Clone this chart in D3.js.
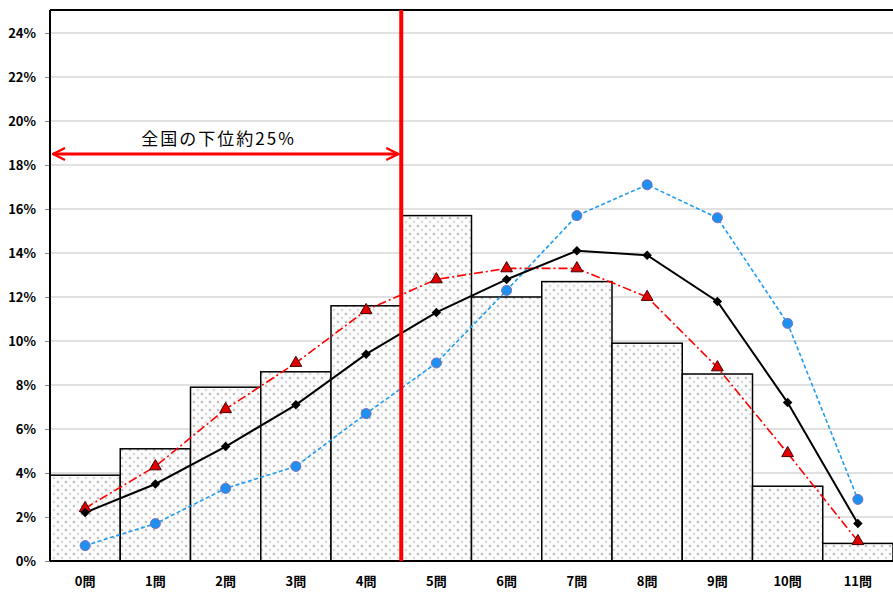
<!DOCTYPE html>
<html>
<head>
<meta charset="utf-8">
<script src="https://cdn.jsdelivr.net/npm/d3@7"></script>
<style>
  body { margin: 0; background: #fff; }
  text { font-family: "Noto Sans CJK JP", "Noto Sans", sans-serif; }
</style>
</head>
<body>
<div id="chart"></div>
<script>
const categories = ["0問","1問","2問","3問","4問","5問","6問","7問","8問","9問","10問","11問"];
const barValues = [3.9, 5.1, 7.9, 8.6, 11.6, 15.7, 12.0, 12.7, 9.9, 8.5, 3.4, 0.8];
const blackValues = [2.2, 3.5, 5.2, 7.1, 9.4, 11.3, 12.8, 14.1, 13.9, 11.8, 7.2, 1.7];
const redValues = [2.4, 4.3, 6.9, 9.0, 11.4, 12.8, 13.3, 13.3, 12.0, 8.8, 4.9, 0.9];
const blueValues = [0.7, 1.7, 3.3, 4.3, 6.7, 9.0, 12.3, 15.7, 17.1, 15.6, 10.8, 2.8];
const yTicks = [0, 2, 4, 6, 8, 10, 12, 14, 16, 18, 20, 22, 24];
const annotationText = "全国の下位約25%";
const cutoffIndex = 5;   // red line sits before this category
const arrowValue = 18.5;

(function chart() {
  let width = 893, height = 595,
    margin = ({ top: 10, right: 0, bottom: 34, left: 50 });

  const svg = d3.select("#chart")
    .append("svg")
    .attr("width", width)
    .attr("height", height);

  let x = d3.scaleBand()
    .domain(categories)
    .range([margin.left, width - margin.right])
    .padding(0);

  let y = d3.scaleLinear()
    .domain([0, 24])
    .range([height - margin.bottom, 33]);

  // stipple pattern for the bars
  const defs = svg.append("defs");
  const pat = defs.append("pattern")
    .attr("id", "dots")
    .attr("width", 8)
    .attr("height", 8)
    .attr("patternUnits", "userSpaceOnUse");
  pat.append("rect").attr("width", 8).attr("height", 8).attr("fill", "#fcfcfc");
  pat.append("circle").attr("cx", 2).attr("cy", 2).attr("r", 1.3).attr("fill", "#c0c0c0");
  pat.append("circle").attr("cx", 6).attr("cy", 6).attr("r", 1.3).attr("fill", "#dadada");

  const arrow = defs.append("marker")
    .attr("id", "arrowhead")
    .attr("viewBox", "0 0 10 10")
    .attr("refX", 9).attr("refY", 5)
    .attr("markerWidth", 5).attr("markerHeight", 5)
    .attr("markerUnits", "strokeWidth")
    .attr("orient", "auto-start-reverse");
  arrow.append("path")
    .attr("d", "M1,1 L9,5 L1,9")
    .attr("fill", "none")
    .attr("stroke", "#ff0000")
    .attr("stroke-width", 1.6);

  // gridlines
  svg.append("g")
    .selectAll("line")
    .data(yTicks.filter(d => d > 0))
    .join("line")
    .attr("x1", margin.left)
    .attr("x2", width)
    .attr("y1", d => y(d))
    .attr("y2", d => y(d))
    .attr("stroke", "#c4c4c4")
    .attr("stroke-width", 1.2);

  // bars
  svg.append("g")
    .selectAll("rect")
    .data(barValues)
    .join("rect")
    .attr("x", (d, i) => x(categories[i]))
    .attr("y", d => y(d))
    .attr("width", x.bandwidth())
    .attr("height", d => y(0) - y(d))
    .attr("fill", "url(#dots)")
    .attr("stroke", "#000")
    .attr("stroke-width", 1.5);

  // frame
  svg.append("line")
    .attr("x1", margin.left).attr("x2", width)
    .attr("y1", margin.top).attr("y2", margin.top)
    .attr("stroke", "#000").attr("stroke-width", 2);

  // y axis
  const yAxis = svg.append("g")
    .attr("transform", `translate(${margin.left},0)`)
    .call(d3.axisLeft(y).tickValues(yTicks).tickSize(5).tickFormat(d => d + "%"));
  yAxis.select(".domain").remove();
  yAxis.selectAll(".tick line").attr("stroke", "#888");
  yAxis.selectAll("text")
    .attr("x", -14)
    .attr("font-size", 13)
    .attr("font-weight", "bold")
    .attr("fill", "#000");
  svg.append("line")
    .attr("x1", margin.left).attr("x2", margin.left)
    .attr("y1", margin.top).attr("y2", y(0))
    .attr("stroke", "#000").attr("stroke-width", 2);

  // x axis
  const xAxis = svg.append("g")
    .attr("transform", `translate(0,${y(0)})`)
    .call(d3.axisBottom(x).tickSize(0));
  xAxis.select(".domain")
    .attr("d", `M${margin.left},0H${width}`)
    .attr("stroke", "#000").attr("stroke-width", 2);
  xAxis.selectAll("text")
    .attr("y", 16)
    .attr("dy", "0.71em")
    .attr("font-size", 13)
    .attr("font-weight", "bold")
    .attr("fill", "#000");

  function buildLine(values, color, dash, width) {
    let line = d3.line()
      .x((d, i) => x(categories[i]) + x.bandwidth() / 2)
      .y(d => y(d));
    svg.append("path")
      .datum(values)
      .attr("fill", "none")
      .attr("stroke", color)
      .attr("stroke-width", width)
      .attr("stroke-dasharray", dash)
      .attr("d", line);
  }

  buildLine(redValues, "#ff0000", "9,3,2,3", 1.6);
  buildLine(blueValues, "#1e9cf0", "4,2.5", 1.6);
  buildLine(blackValues, "#000", null, 2);

  const cx = i => x(categories[i]) + x.bandwidth() / 2;

  svg.append("g")
    .selectAll("path")
    .data(redValues)
    .join("path")
    .attr("d", d3.symbol(d3.symbolTriangle, 60))
    .attr("transform", (d, i) => `translate(${cx(i)},${y(d)})`)
    .attr("fill", "#e00000")
    .attr("stroke", "#400")
    .attr("stroke-width", 1);

  svg.append("g")
    .selectAll("circle")
    .data(blueValues)
    .join("circle")
    .attr("cx", (d, i) => cx(i))
    .attr("cy", d => y(d))
    .attr("r", 5)
    .attr("fill", "#1e90f0")
    .attr("stroke", "#7a6fb8")
    .attr("stroke-width", 1);

  svg.append("g")
    .selectAll("path")
    .data(blackValues)
    .join("path")
    .attr("d", d3.symbol(d3.symbolSquare, 45))
    .attr("transform", (d, i) => `translate(${cx(i)},${y(d)}) rotate(45)`)
    .attr("fill", "#000");

  // cutoff line and arrow
  const cut = x(categories[cutoffIndex]);
  svg.append("line")
    .attr("x1", cut).attr("x2", cut)
    .attr("y1", margin.top).attr("y2", y(0))
    .attr("stroke", "#ff0000").attr("stroke-width", 4);

  svg.append("line")
    .attr("x1", margin.left + 3).attr("x2", cut - 3)
    .attr("y1", y(arrowValue)).attr("y2", y(arrowValue))
    .attr("stroke", "#ff0000").attr("stroke-width", 3)
    .attr("marker-start", "url(#arrowhead)")
    .attr("marker-end", "url(#arrowhead)");

  svg.append("text")
    .attr("x", (margin.left + cut) / 2 - 7)
    .attr("y", y(arrowValue) - 9)
    .attr("text-anchor", "middle")
    .attr("font-size", 17)
    .attr("letter-spacing", 2)
    .attr("fill", "#000")
    .text(annotationText);
})();
</script>
</body>
</html>
